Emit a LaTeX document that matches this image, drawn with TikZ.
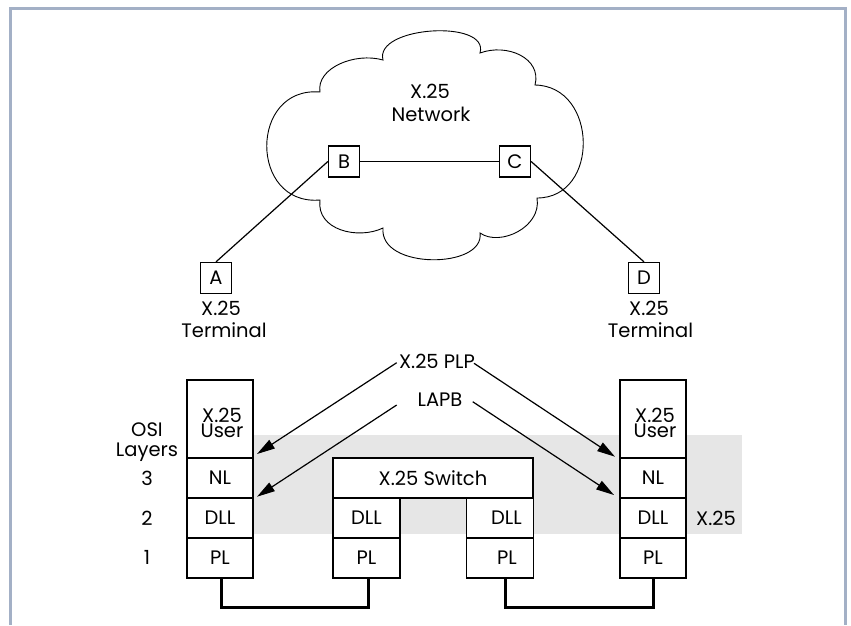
\documentclass[tikz,border=0pt]{standalone}
\usepackage{fontspec}
\setmainfont{Poppins}
\usetikzlibrary{arrows.meta}
\definecolor{framec}{HTML}{A3B0C6}
\definecolor{bandc}{HTML}{E6E6E6}
\newcommand\txtfont{\fontsize{19.5}{19.5}\selectfont}
\newcommand\tightfont{\fontsize{19.5}{15}\selectfont}
\begin{document}
\begin{tikzpicture}[x=1pt,y=-1pt,
  txt/.style={font=\txtfont, inner sep=0pt},
  usertxt/.style={font=\tightfont, inner sep=0pt, align=center},
  box/.style={draw, line width=1.4pt, fill=white, minimum width=66pt, minimum height=40pt, inner sep=0pt, font=\txtfont},
  sq/.style={draw, line width=1.3pt, fill=white, minimum size=31pt, inner sep=0pt, font=\txtfont},
  conn/.style={line width=1.2pt},
  arr/.style={line width=1.2pt, -{Triangle[length=18pt,width=10pt]}},
  wire/.style={line width=3pt, line join=miter}]
\fill[white] (0,0) rectangle (851,625);
\useasboundingbox (0,0) rectangle (851,625);
% frame
\draw[framec, line width=3pt, line join=miter] (10,625) -- (10,8.5) -- (845,8.5) -- (845,625);
% grey band
\fill[bandc] (253,435) rectangle (742,534);
% cloud
\draw[line width=0.9pt]
  (320,92) .. controls (316,68) and (355,52) .. (383,60)
  .. controls (374,26) and (490,19) .. (480,53)
  .. controls (507,43) and (542,58) .. (535,85)
  .. controls (598,86) and (600,198) .. (537,198)
  .. controls (542,227) and (500,247) .. (480,233)
  .. controls (485,269) and (379,270) .. (383,228)
  .. controls (358,240) and (316,230) .. (320,200)
  .. controls (249,206) and (249,86) .. (320,92) -- cycle;
\node[txt, anchor=base] (netA) at (430,98) {X.25};
\node[txt, anchor=base] (netB) at (431,121.5) {Network};
% terminals and switches
\node[sq] (B) at (344,161.5) {B};
\node[sq] (C) at (515,161.5) {C};
\node[sq] (A) at (216,278) {A};
\node[sq] (D) at (644,278) {D};
\draw[conn] (B) -- (C);
\draw[conn] (A.north) -- (B.west);
\draw[conn] (C.east) -- (D.north);
\node[txt, anchor=base] (tA1) at (221,315) {X.25};
\node[txt, anchor=base] (tA2) at (224,337) {Terminal};
\node[txt, anchor=base] (tD1) at (649,315) {X.25};
\node[txt, anchor=base] (tD2) at (650.5,337) {Terminal};
% left stack
\node[box, minimum height=78pt] (luser) at (220,419) {};
\node[box] (lnl) at (220,478) {NL};
\node[box] (ldll) at (220,518) {DLL};
\node[box] (lpl) at (220,558) {PL};
\node[usertxt, anchor=south] (lu) at (222,438) {X.25\\User};
% right stack
\node[box, minimum height=78pt] (ruser) at (653,419) {};
\node[box] (rnl) at (653,478) {NL};
\node[box] (rdll) at (653,518) {DLL};
\node[box] (rpl) at (653,558) {PL};
\node[usertxt, anchor=south] (ru) at (655,438) {X.25\\User};
% switch
\node[box, minimum width=200pt] (sw) at (433,478) {X.25 Switch};
\node[box, minimum width=67pt] (swdl) at (366.5,518) {DLL};
\node[box, minimum width=67pt] (swpl) at (366.5,558) {PL};
\node[box, minimum width=67pt, label={[txt, xshift=6.5pt]center:DLL}] (swdr) at (500,518) {};
\node[box, minimum width=67pt, label={[txt, xshift=7pt]center:PL}] (swpr) at (500,558) {};
% wires
\draw[wire] ([xshift=1.5pt]lpl.south) -- ++(0,29) -| ([xshift=1.5pt]swpl.south);
\draw[wire] ([xshift=5pt]swpr.south) -- ++(0,29) -| (rpl.south);
% side labels
\node[txt, anchor=base] (osi) at (147,436) {OSI};
\node[txt, anchor=base] (lay) at (147,456) {Layers};
\node[txt] (l3) at (147,478) {3};
\node[txt] (l2) at (147,518) {2};
\node[txt] (l1) at (147,557) {1};
\node[txt] (x25r) at (716,518) {X.25};
% protocol labels and arrows
\node[txt, anchor=base] (plp) at (437,368.3) {X.25 PLP};
\node[txt, anchor=base] (lapb) at (440,406.7) {LAPB};
\coordinate (plpL) at (396.7,362.7);
\coordinate (plpR) at (474,363.3);
\coordinate (lapbL) at (396.7,405);
\coordinate (lapbR) at (472.7,401.7);
\coordinate (tipLU) at (257,454);
\coordinate (tipLN) at (257,496.7);
\coordinate (tipRU) at (615,456.7);
\coordinate (tipRN) at (614,495);
\draw[arr] (plpL) -- (tipLU);
\draw[arr] (lapbL) -- (tipLN);
\draw[arr] (plpR) -- (tipRU);
\draw[arr] (lapbR) -- (tipRN);
\end{tikzpicture}
\end{document}
